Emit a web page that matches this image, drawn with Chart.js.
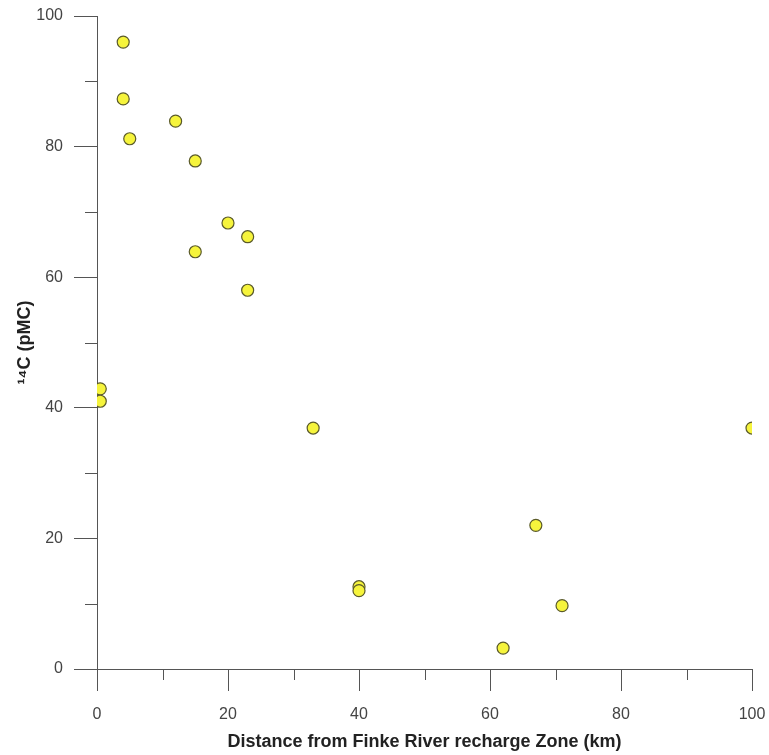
<!DOCTYPE html>
<html>
<head>
<meta charset="utf-8">
<script src="https://cdn.jsdelivr.net/npm/chart.js@4"></script>
<style>
  html, body { margin: 0; padding: 0; background: #fff; }
  #wrap { width: 769px; height: 755px; }
</style>
</head>
<body>
<div id="wrap"><canvas id="c14Chart" width="769" height="755"></canvas></div>
<script>
// distance from Finke River recharge zone (km)
const distanceKm = [4, 4, 5, 12, 15, 20, 23, 15, 23, 0.5, 0.5, 33, 100, 40, 40, 67, 71, 62];
// 14C (pMC)
const c14 = [96, 87.3, 81.2, 83.9, 77.8, 68.3, 66.2, 63.9, 58, 42.9, 41, 36.9, 36.9, 12.6, 12, 22, 9.7, 3.2];
const xTicks = [0, 20, 40, 60, 80, 100];
const yTicks = [0, 20, 40, 60, 80, 100];

const axisColor = '#555';

// short minor ticks halfway between the labelled ones
const minorTicks = {
    id: 'minorTicks',
    afterDraw(chart) {
        const ctx = chart.ctx;
        const x = chart.scales.x, y = chart.scales.y;
        ctx.save();
        ctx.strokeStyle = axisColor;
        ctx.lineWidth = 1;
        ctx.beginPath();
        for (let v = 10; v < 100; v += 20) {
            const px = Math.round(x.getPixelForValue(v)) + 0.5;
            ctx.moveTo(px, y.bottom);
            ctx.lineTo(px, y.bottom + 11);
            const py = Math.round(y.getPixelForValue(v)) + 0.5;
            ctx.moveTo(x.left, py);
            ctx.lineTo(x.left - 12, py);
        }
        ctx.stroke();
        ctx.restore();
    }
};

document.addEventListener("DOMContentLoaded", () => {
    const ctx = document.getElementById('c14Chart').getContext('2d');

    new Chart(ctx, {
        type: 'scatter',
        data: {
            datasets: [{
                label: '14C',
                data: distanceKm.map((d, i) => ({ x: d, y: c14[i] })),
                backgroundColor: '#f6f43c',
                borderColor: '#5a5a2a',
                borderWidth: 1.2,
                pointRadius: 6,
                pointHoverRadius: 6
            }]
        },
        options: {
            responsive: false,
            animation: false,
            layout: { padding: { top: 16, right: 17, left: 0, bottom: 0 } },
            plugins: { legend: { display: false }, tooltip: { enabled: false } },
            scales: {
                x: {
                    type: 'linear',
                    min: 0, max: 100,
                    afterBuildTicks: s => { s.ticks = xTicks.map(v => ({ value: v })); },
                    afterFit: s => {
                        s.height = 86;
                        s.paddingLeft = 0; s.paddingRight = 0;
                        s.paddingTop = 0; s.paddingBottom = 0;
                    },
                    border: { color: axisColor, width: 1 },
                    grid: { drawOnChartArea: false, drawTicks: true, tickLength: 22, tickColor: axisColor },
                    ticks: { padding: 14, color: '#444', font: { family: 'Liberation Sans', size: 16 }, maxRotation: 0 },
                    title: {
                        display: true,
                        text: 'Distance from Finke River recharge Zone (km)',
                        color: '#222',
                        font: { family: 'Liberation Sans', size: 18, weight: 'bold' },
                        padding: { top: 0, bottom: 2 }
                    }
                },
                y: {
                    type: 'linear',
                    min: 0, max: 100,
                    afterBuildTicks: s => { s.ticks = yTicks.map(v => ({ value: v })); },
                    afterFit: s => {
                        s.width = 97;
                        s.paddingLeft = 0; s.paddingRight = 0;
                        s.paddingTop = 0; s.paddingBottom = 0;
                    },
                    border: { color: axisColor, width: 1 },
                    grid: { drawOnChartArea: false, drawTicks: true, tickLength: 23, tickColor: axisColor },
                    ticks: { padding: 11, color: '#444', font: { family: 'Liberation Sans', size: 16 } },
                    title: {
                        display: true,
                        text: '¹⁴C (pMC)',
                        color: '#222',
                        font: { family: 'Liberation Sans', size: 18, weight: 'bold' },
                        padding: { top: 14, bottom: 0 }
                    }
                }
            }
        },
        plugins: [minorTicks]
    });
});
</script>
</body>
</html>
